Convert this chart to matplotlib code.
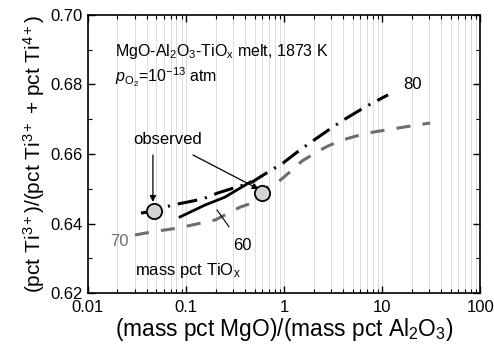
import matplotlib.pyplot as plt
import numpy as np
from matplotlib.ticker import LogLocator, MultipleLocator, NullFormatter

plt.rcParams['font.family'] = ['Liberation Sans', 'DejaVu Sans']
plt.rcParams['mathtext.fontset'] = 'custom'
plt.rcParams['mathtext.rm'] = 'Liberation Sans'
plt.rcParams['mathtext.it'] = 'Liberation Sans:italic'

# 80 mass pct TiOx (dash-dot)
x80 = [0.0348, 0.047, 0.072, 0.105, 0.149, 0.212, 0.331, 0.471, 0.687, 0.977,
       1.46, 2.17, 3.16, 4.39, 6.71, 9.1, 11.5]
y80 = [0.6430, 0.6436, 0.6453, 0.6462, 0.6471, 0.6488, 0.6505, 0.6519, 0.6548, 0.6574,
       0.6612, 0.6646, 0.6678, 0.6704, 0.6735, 0.6755, 0.6770]
# 70 mass pct TiOx (grey dashed)
x70 = [0.0302, 0.045, 0.083, 0.198, 0.356, 0.471, 0.687, 0.868, 1.21, 1.53,
       2.17, 2.81, 3.91, 5.06, 7.03, 9.5, 17.2, 30.9]
y70 = [0.6367, 0.6376, 0.6387, 0.6410, 0.6447, 0.6459, 0.6505, 0.6519, 0.6554, 0.6580,
       0.6606, 0.6623, 0.6640, 0.6649, 0.6660, 0.6666, 0.6678, 0.6689]
# 60 mass pct TiOx (solid)
x60 = [0.087, 0.156, 0.250, 0.450]
y60 = [0.6419, 0.6453, 0.6476, 0.6519]
# observed points
x_obs = [0.0471, 0.597]
y_obs = [0.6436, 0.6488]

fig = plt.figure(figsize=(4.94, 3.46), dpi=100)
ax = fig.add_axes([0.178, 0.153, 0.794, 0.804])

ax.set_xscale('log')
ax.set_xlim(0.01, 100)
ax.set_ylim(0.62, 0.70)

ax.grid(True, which='both', axis='x', color='#dcdcdc', lw=0.7)
ax.set_axisbelow(True)

ax.plot(x70, y70, color='#6e6e6e', lw=2.2, dashes=(4.6, 4.0))
ax.plot(x80, y80, color='black', lw=2.2, dashes=(6.5, 2.6, 0.7, 2.6))
ax.plot(x60, y60, color='black', lw=2.0)
ax.scatter(x_obs, y_obs, s=120, facecolor='#d3d3d3', edgecolor='black', lw=1.3, zorder=5)

arrow = dict(arrowstyle='-|>', color='black', lw=0.9, mutation_scale=9, shrinkA=0, shrinkB=0)
ax.text(0.0288, 0.6643, 'observed', fontsize=12, ha='left', va='center')
ax.annotate('', xy=(0.046, 0.6462), xytext=(0.046, 0.6597), arrowprops=arrow)
ax.annotate('', xy=(0.55, 0.6499), xytext=(0.118, 0.6597), arrowprops=arrow)
ax.annotate('60', xy=(0.207, 0.6439), xytext=(0.373, 0.6338), fontsize=12,
            ha='center', va='center',
            arrowprops=dict(arrowstyle='-', color='black', lw=0.8, shrinkA=7, shrinkB=0))
ax.text(0.0207, 0.6347, '70', color='#6e6e6e', fontsize=12, ha='center', va='center')
ax.text(20.2, 0.6799, '80', color='black', fontsize=12, ha='center', va='center')
ax.text(0.0302, 0.6266, 'mass pct TiO$_{\\rm x}$', fontsize=12, ha='left', va='center')
ax.text(0.0189, 0.6894, 'MgO-Al$_2$O$_3$-TiO$_{\\rm x}$ melt, 1873 K', fontsize=11.5,
        ha='left', va='center')
ax.text(0.0189, 0.6819, '$p_{\\rm O_2}$=10$^{-13}$ atm', fontsize=11.5,
        ha='left', va='center')

ax.set_xticks([0.01, 0.1, 1, 10, 100])
ax.set_xticklabels(['0.01', '0.1', '1', '10', '100'])
ax.xaxis.set_minor_locator(LogLocator(base=10, subs=np.arange(2, 10)))
ax.xaxis.set_minor_formatter(NullFormatter())
ax.yaxis.set_major_locator(MultipleLocator(0.02))
ax.yaxis.set_minor_locator(MultipleLocator(0.01))
ax.yaxis.set_major_formatter(plt.FormatStrFormatter('%.2f'))

ax.tick_params(which='both', direction='in', top=True, right=True, labelsize=12)
ax.tick_params(axis='x', pad=5)
ax.tick_params(axis='y', pad=4)
ax.tick_params(which='major', length=5, width=1)
ax.tick_params(which='minor', length=3, width=0.8)
for s in ax.spines.values():
    s.set_linewidth(1.2)

ax.set_xlabel('(mass pct MgO)/(mass pct Al$_2$O$_3$)', fontsize=16.4, labelpad=1)
ax.set_ylabel('(pct Ti$^{3+}$)/(pct Ti$^{3+}$ + pct Ti$^{4+}$)', fontsize=15, labelpad=2)

fig.savefig('out.png', dpi=100)
